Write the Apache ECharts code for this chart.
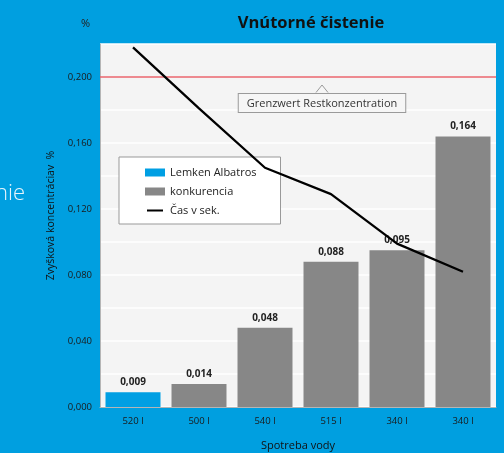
<!DOCTYPE html>
<html>
<head>
<meta charset="utf-8">
<script src="https://cdn.jsdelivr.net/npm/echarts@6/dist/echarts.min.js"></script>
<style>
  html, body { margin: 0; padding: 0; background: #009fe0; }
  #main { width: 504px; height: 453px; }
</style>
</head>
<body>
<div id="main"></div>
<script>
var categories = ['520 l', '500 l', '540 l', '515 l', '340 l', '340 l'];
var lemkenValues = [0.009, '-', '-', '-', '-', '-'];
var konkurenciaValues = ['-', 0.014, 0.048, 0.088, 0.095, 0.164];
var casValues = [218, 181, 145, 129, 99, 82];
var limitValue = 0.2;

var fmt = function (v) { return v.toFixed(3).replace('.', ','); };
var labelStyle = {
  show: true, position: 'top', distance: 5,
  fontSize: 10, fontWeight: 'bold', color: '#222',
  formatter: function (p) { return fmt(p.value); }
};

var myChart = echarts.init(document.getElementById('main'));
var option = {
  backgroundColor: '#009fe0',
  textStyle: { fontFamily: 'Open Sans' },
  title: {
    text: 'Vnútorné čistenie',
    left: 306, top: 10, textAlign: 'center',
    textStyle: { fontSize: 16.5, fontWeight: 'bold', color: '#111', fontFamily: 'Open Sans' }
  },
  graphic: [
    { type: 'text', left: 81, top: 18, style: { text: '%', fontSize: 11, fill: '#222', fontFamily: 'Open Sans' } },
    { type: 'text', left: -5, top: 183, style: { text: 'nie', fontSize: 22, fill: '#e6f5fc', fontFamily: 'Open Sans', fontWeight: 'lighter' } },
    { type: 'polyline', z: 100, shape: { points: [[316, 92.5], [322, 85], [328, 92.5]] },
      style: { fill: '#f6f6f6', stroke: '#9a9a9a', lineWidth: 1 } }
  ],
  legend: {
    orient: 'vertical', left: 119, top: 157,
    padding: [10, 24, 8, 26], itemGap: 8,
    itemWidth: 20, itemHeight: 8,
    backgroundColor: '#ffffff', borderColor: '#999', borderWidth: 1,
    textStyle: { fontSize: 11, color: '#222' },
    data: [
      { name: 'Lemken Albatros', icon: 'rect' },
      { name: 'konkurencia', icon: 'rect' },
      { name: 'Čas v sek.', icon: 'path://M0 0 H0.01 V10 H0 Z M0 3.6 H20 V6.4 H0 Z' }
    ]
  },
  grid: {
    left: 100, right: 8, top: 44, bottom: 46,
    outerBoundsMode: 'none',
    show: true, backgroundColor: '#f4f4f4', borderWidth: 0
  },
  xAxis: {
    type: 'category', data: categories,
    axisTick: { show: false },
    axisLine: { lineStyle: { color: '#b5b5b5' } },
    axisLabel: { fontSize: 9.5, color: '#1a1a1a', margin: 9 },
    name: 'Spotreba vody', nameLocation: 'middle', nameGap: 33,
    nameTextStyle: { fontSize: 11, color: '#111' }
  },
  yAxis: [{
    type: 'value', min: 0, max: 0.22, interval: 0.02,
    axisLine: { show: true, lineStyle: { color: '#b5b5b5' } },
    axisTick: { show: false },
    splitLine: { lineStyle: { color: '#ffffff', width: 1.5 } },
    axisLabel: {
      fontSize: 9.5, color: '#1a1a1a', margin: 8,
      formatter: function (v) {
        return Math.round(v * 1000) % 40 === 0 ? fmt(v) : '';
      }
    },
    name: 'Zvyšková koncentráciav  %', nameLocation: 'middle', nameGap: 42,
    nameTextStyle: { fontSize: 10.5, color: '#111', padding: [0, 0, 0, 20] }
  }, {
    type: 'value', min: 0, max: 220, show: false
  }],
  series: [{
    name: 'Lemken Albatros', type: 'bar', stack: 'a',
    data: lemkenValues, barWidth: 55,
    itemStyle: { color: '#009fe3' },
    label: labelStyle,
    markLine: {
      symbol: 'none', silent: true,
      lineStyle: { color: '#e8636b', width: 1.5, type: 'solid' },
      label: {
        formatter: 'Grenzwert Restkonzentration',
        position: 'insideMiddleBottom', distance: 17, offset: [24, 0],
        fontSize: 11, color: '#333',
        backgroundColor: '#f6f6f6', borderColor: '#9a9a9a', borderWidth: 1,
        padding: [4, 8, 3, 8]
      },
      data: [{ yAxis: limitValue }]
    }
  }, {
    name: 'konkurencia', type: 'bar', stack: 'a',
    data: konkurenciaValues, barWidth: 55,
    itemStyle: { color: '#878787' },
    label: labelStyle
  }, {
    name: 'Čas v sek.', type: 'line', yAxisIndex: 1,
    data: casValues, symbol: 'none', z: 5,
    lineStyle: { color: '#000', width: 2.3 },
    itemStyle: { color: '#000' }
  }]
};
myChart.setOption(option);
</script>
</body>
</html>
